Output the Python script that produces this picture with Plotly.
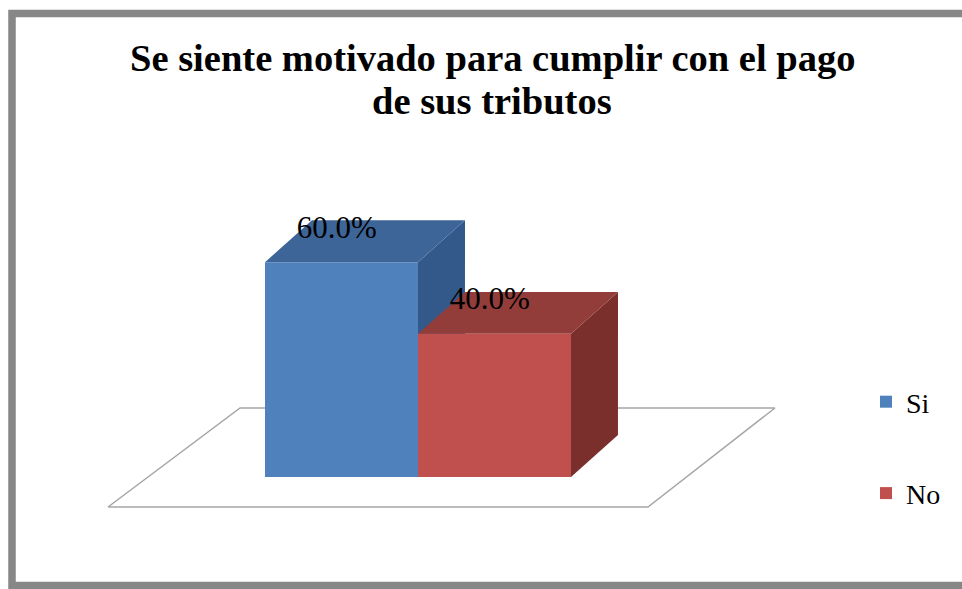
import plotly.graph_objects as go

# ---- data ----
categories = ["Si", "No"]
values = [60.0, 40.0]
title_lines = ["Se siente motivado para cumplir con el pago", "de sus tributos"]

# ---- style ----
front_colors = ["#4F81BD", "#C0504D"]
top_colors = ["#3E6598", "#923D3A"]
side_colors = ["#33598A", "#7B2F2C"]
SERIF = "Liberation Serif, Times New Roman, serif"
W, H = 962, 589
PX_X0, PX_PER_X = 341.5, 153.0     # pixel centre of first category, px per category
PX_Y0, PX_PER_Y = 477.0, 3.58      # pixel of value 0, px per percent
DEPTH_X, DEPTH_Y = 0.307, 11.7     # bar depth offset in data units
BAR_W = 1.0
# floor plane (in data units)
FLOOR_FRONT_Y, FLOOR_BACK_Y = -8.38, 19.27
FLOOR_FL, FLOOR_FR, FLOOR_BR, FLOOR_BL = -1.526, 2.003, 2.833, -0.663
TITLE_Y_PX = [58, 101]

xr = [(0 - PX_X0) / PX_PER_X, (W - PX_X0) / PX_PER_X]
yr = [(PX_Y0 - H) / PX_PER_Y, PX_Y0 / PX_PER_Y]

fig = go.Figure()

# floor
fig.add_trace(go.Scatter(
    x=[FLOOR_FL, FLOOR_FR, FLOOR_BR, FLOOR_BL, FLOOR_FL],
    y=[FLOOR_FRONT_Y, FLOOR_FRONT_Y, FLOOR_BACK_Y, FLOOR_BACK_Y, FLOOR_FRONT_Y],
    mode="lines", line=dict(color="#A6A6A6", width=1.5),
    showlegend=False, hoverinfo="skip"))

# 3D side and top faces
for i, v in enumerate(values):
    l, r = i - BAR_W / 2, i + BAR_W / 2
    fig.add_trace(go.Scatter(
        x=[r, r + DEPTH_X, r + DEPTH_X, r, r],
        y=[0, DEPTH_Y, v + DEPTH_Y, v, 0],
        fill="toself", fillcolor=side_colors[i], mode="lines",
        line=dict(width=0, color=side_colors[i]),
        showlegend=False, hoverinfo="skip"))
    fig.add_trace(go.Scatter(
        x=[l, r, r + DEPTH_X, l + DEPTH_X, l],
        y=[v, v, v + DEPTH_Y, v + DEPTH_Y, v],
        fill="toself", fillcolor=top_colors[i], mode="lines",
        line=dict(width=0, color=top_colors[i]),
        showlegend=False, hoverinfo="skip"))

# front faces (bars) on overlaying axes so they sit above the depth faces
for i, (c, v) in enumerate(zip(categories, values)):
    fig.add_trace(go.Bar(
        x=[i], y=[v], width=BAR_W, name=c, legendgroup=c,
        marker=dict(color=front_colors[i], line=dict(width=0)),
        xaxis="x2", yaxis="y2"))

# data labels
fig.add_trace(go.Scatter(
    x=[i - 0.03 for i in range(len(values))],
    y=[v + DEPTH_Y - 2.7 for v in values],
    text=[f"{v:.1f}%" for v in values],
    mode="text", textposition="middle center",
    textfont=dict(family=SERIF, size=31, color="#000000"),
    showlegend=False, hoverinfo="skip", xaxis="x2", yaxis="y2"))

ax = dict(showgrid=False, zeroline=False, showticklabels=False, ticks="",
          showline=False, fixedrange=True)
fig.update_layout(
    width=W, height=H,
    margin=dict(l=0, r=0, t=0, b=0),
    paper_bgcolor="#FFFFFF", plot_bgcolor="rgba(0,0,0,0)",
    xaxis=dict(range=xr, **ax),
    yaxis=dict(range=yr, **ax),
    xaxis2=dict(range=xr, overlaying="x", **ax),
    yaxis2=dict(range=yr, overlaying="y", **ax),
    showlegend=True,
    legend=dict(x=866 / W, y=1 - 377 / H, xanchor="left", yanchor="top",
                font=dict(family=SERIF, size=28, color="#000000"),
                bgcolor="rgba(0,0,0,0)", tracegroupgap=52,
                itemwidth=30),
    annotations=[dict(
        text=t, x=492 / W, y=1 - py / H, xref="paper", yref="paper",
        xanchor="center", yanchor="middle", showarrow=False,
        font=dict(family=SERIF, size=38.5, color="#000000", weight="bold"))
        for t, py in zip(title_lines, TITLE_Y_PX)],
    shapes=[dict(type="rect", xref="paper", yref="paper",
                 x0=12 / W, x1=966 / W, y0=1 - 585.5 / H, y1=1 - 13.5 / H,
                 line=dict(color="#878787", width=7.5))],
)

fig.write_html("out.html", config={"displayModeBar": False},
               post_script="document.body.style.margin='0';document.body.style.overflow='hidden';")
